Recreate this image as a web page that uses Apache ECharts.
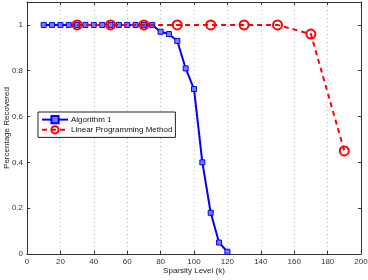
<!DOCTYPE html>
<html><head><meta charset="utf-8">
<script src="https://cdn.jsdelivr.net/npm/echarts@6/dist/echarts.min.js"></script>
<style>html,body{margin:0;padding:0;background:#fff}#c{width:368px;height:280px}</style>
</head><body><div id="c"></div>
<script>
var algX = [10,15,20,25,30,35,40,45,50,55,60,65,70,75,80,85,90,95,100,105,110,115,120];
var algY = [1,1,1,1,1,1,1,1,1,1,1,1,1,1,0.97,0.96,0.93,0.81,0.72,0.40,0.18,0.05,0.01];
var lpX = [30,50,70,90,110,130,150,170,190];
var lpY = [1,1,1,1,1,1,1,0.96,0.45];
var xTicks = [0,20,40,60,80,100,120,140,160,180,200];
var yTicks = [0,0.2,0.4,0.6,0.8,1];
var font = 'Liberation Sans, Arial, sans-serif';
function pairs(xs, ys){ return xs.map(function(x,i){return [x, ys[i]];}); }
var chart = echarts.init(document.getElementById('c'));
chart.setOption({
  animation:false,
  grid:{left:27,right:7,top:2,bottom:26,show:false,containLabel:false,outerBoundsMode:'none'},
  xAxis:[{
    type:'value',min:0,max:200,interval:20,position:'bottom',
    name:'Sparsity Level (k)',nameLocation:'middle',nameGap:13,nameMoveOverlap:false,
    nameTextStyle:{fontFamily:font,fontSize:8,color:'#222'},
    axisLine:{onZero:false,lineStyle:{color:'#333',width:1}},
    axisTick:{inside:true,length:3,lineStyle:{color:'#333'}},
    axisLabel:{fontFamily:font,fontSize:8,color:'#333',margin:4},
    splitLine:{show:true,lineStyle:{color:'#bbb',type:[1,3],width:1}}
  },{
    type:'value',min:0,max:200,interval:20,position:'top',
    axisLine:{onZero:false,lineStyle:{color:'#333'}},
    axisTick:{inside:true,length:3,lineStyle:{color:'#333'}},
    axisLabel:{show:false},splitLine:{show:false}
  }],
  yAxis:[{
    type:'value',min:0,max:1.1,interval:0.2,position:'left',
    name:'Percentage Recovered',nameLocation:'middle',nameGap:16,nameMoveOverlap:false,
    nameTextStyle:{fontFamily:font,fontSize:8,color:'#222'},
    axisLine:{onZero:false,lineStyle:{color:'#333',width:1}},
    axisTick:{inside:true,length:3,lineStyle:{color:'#333'}},
    axisLabel:{fontFamily:font,fontSize:8,color:'#333',margin:4,
      formatter:function(v){ var r=Math.round(v*10)/10; return yTicks.indexOf(r)>=0 ? String(r) : ''; }},
    splitLine:{show:false}
  },{
    type:'value',min:0,max:1.1,interval:0.2,position:'right',
    axisLine:{onZero:false,lineStyle:{color:'#333'}},
    axisTick:{inside:true,length:3,lineStyle:{color:'#333'}},
    axisLabel:{show:false},splitLine:{show:false}
  }],
  legend:{
    orient:'vertical',left:38,top:112,
    backgroundColor:'#fff',borderColor:'#222',borderWidth:1,borderRadius:0,
    padding:[3,3,3,3],itemGap:1,itemWidth:26,itemHeight:9,
    textStyle:{fontFamily:font,fontSize:8,color:'#111',padding:[0,0,0,-2]},
    data:['Algorithm 1','Linear Programming Method']
  },
  series:[{
    name:'Algorithm 1',type:'line',data:pairs(algX,algY),
    color:'#0000ff',
    lineStyle:{color:'#0000ff',width:2},
    symbol:'rect',symbolSize:5,
    itemStyle:{color:'#7a7aff',borderColor:'#0000ff',borderWidth:1},
    z:3
  },{
    name:'Linear Programming Method',type:'line',data:pairs(lpX,lpY),
    color:'#ff0000',
    lineStyle:{color:'#ff0000',width:2,type:[5,4]},
    symbol:'circle',symbolSize:9,
    itemStyle:{color:'rgba(255,255,255,0)',borderColor:'#ff0000',borderWidth:2},
    z:4
  }]
});
</script></body></html>
